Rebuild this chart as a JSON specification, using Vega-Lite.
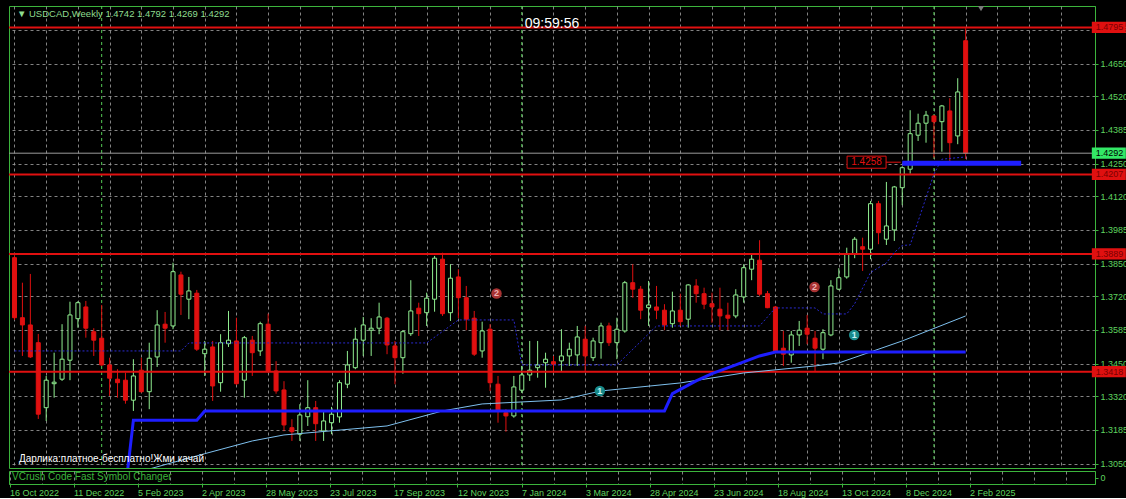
{
  "$schema": "https://vega.github.io/schema/vega-lite/v6.json",
  "background": "#000000",
  "padding": {"left": 7, "top": 5, "right": 0, "bottom": 0},
  "spacing": 3,
  "bounds": "flush",
  "datasets": {
    "candles": [
      {"date":"2022-10-16","open":1.3874,"high":1.3882,"low":1.3625,"close":1.3634},
      {"date":"2022-10-23","open":1.3634,"high":1.3774,"low":1.3481,"close":1.3605},
      {"date":"2022-10-30","open":1.3605,"high":1.3809,"low":1.3473,"close":1.3477},
      {"date":"2022-11-06","open":1.3534,"high":1.3569,"low":1.3229,"close":1.3248},
      {"date":"2022-11-13","open":1.3274,"high":1.3401,"low":1.3221,"close":1.3384},
      {"date":"2022-11-20","open":1.3370,"high":1.3494,"low":1.3314,"close":1.3376},
      {"date":"2022-11-27","open":1.3388,"high":1.3608,"low":1.3381,"close":1.3468},
      {"date":"2022-12-04","open":1.3464,"high":1.3698,"low":1.3384,"close":1.3645},
      {"date":"2022-12-11","open":1.3630,"high":1.3700,"low":1.3594,"close":1.3694},
      {"date":"2022-12-18","open":1.3677,"high":1.3701,"low":1.3554,"close":1.3592},
      {"date":"2022-12-25","open":1.3578,"high":1.3592,"low":1.3481,"close":1.3544},
      {"date":"2023-01-01","open":1.3552,"high":1.3685,"low":1.3441,"close":1.3445},
      {"date":"2023-01-08","open":1.3445,"high":1.3474,"low":1.3321,"close":1.3392},
      {"date":"2023-01-15","open":1.3388,"high":1.3428,"low":1.3314,"close":1.3374},
      {"date":"2023-01-22","open":1.3384,"high":1.3414,"low":1.3290,"close":1.3304},
      {"date":"2023-01-29","open":1.3304,"high":1.3468,"low":1.3261,"close":1.3401},
      {"date":"2023-02-05","open":1.3424,"high":1.3474,"low":1.3334,"close":1.3338},
      {"date":"2023-02-12","open":1.3338,"high":1.3534,"low":1.3268,"close":1.3472},
      {"date":"2023-02-19","open":1.3477,"high":1.3664,"low":1.3437,"close":1.3605},
      {"date":"2023-02-26","open":1.3608,"high":1.3657,"low":1.3534,"close":1.3592},
      {"date":"2023-03-05","open":1.3601,"high":1.3854,"low":1.3588,"close":1.3818},
      {"date":"2023-03-12","open":1.3805,"high":1.3818,"low":1.3645,"close":1.3728},
      {"date":"2023-03-19","open":1.3708,"high":1.3797,"low":1.3628,"close":1.3741},
      {"date":"2023-03-26","open":1.3732,"high":1.3745,"low":1.3501,"close":1.3508},
      {"date":"2023-04-02","open":1.3490,"high":1.3541,"low":1.3401,"close":1.3508},
      {"date":"2023-04-09","open":1.3517,"high":1.3541,"low":1.3301,"close":1.3361},
      {"date":"2023-04-16","open":1.3374,"high":1.3568,"low":1.3338,"close":1.3534},
      {"date":"2023-04-23","open":1.3530,"high":1.3661,"low":1.3517,"close":1.3544},
      {"date":"2023-04-30","open":1.3541,"high":1.3634,"low":1.3365,"close":1.3370},
      {"date":"2023-05-07","open":1.3384,"high":1.3561,"low":1.3314,"close":1.3554},
      {"date":"2023-05-14","open":1.3544,"high":1.3561,"low":1.3401,"close":1.3494},
      {"date":"2023-05-21","open":1.3501,"high":1.3618,"low":1.3481,"close":1.3610},
      {"date":"2023-05-28","open":1.3608,"high":1.3650,"low":1.3414,"close":1.3421},
      {"date":"2023-06-04","open":1.3421,"high":1.3460,"low":1.3330,"close":1.3341},
      {"date":"2023-06-11","open":1.3345,"high":1.3380,"low":1.3180,"close":1.3205},
      {"date":"2023-06-18","open":1.3194,"high":1.3228,"low":1.3141,"close":1.3178},
      {"date":"2023-06-25","open":1.3168,"high":1.3288,"low":1.3141,"close":1.3245},
      {"date":"2023-07-02","open":1.3238,"high":1.3384,"low":1.3201,"close":1.3274},
      {"date":"2023-07-09","open":1.3274,"high":1.3301,"low":1.3141,"close":1.3210},
      {"date":"2023-07-16","open":1.3181,"high":1.3261,"low":1.3141,"close":1.3221},
      {"date":"2023-07-23","open":1.3214,"high":1.3277,"low":1.3168,"close":1.3248},
      {"date":"2023-07-30","open":1.3237,"high":1.3384,"low":1.3214,"close":1.3374},
      {"date":"2023-08-06","open":1.3368,"high":1.3501,"low":1.3352,"close":1.3445},
      {"date":"2023-08-13","open":1.3434,"high":1.3594,"low":1.3428,"close":1.3548},
      {"date":"2023-08-20","open":1.3544,"high":1.3637,"low":1.3481,"close":1.3605},
      {"date":"2023-08-27","open":1.3584,"high":1.3632,"low":1.3481,"close":1.3592},
      {"date":"2023-09-03","open":1.3592,"high":1.3694,"low":1.3568,"close":1.3637},
      {"date":"2023-09-10","open":1.3632,"high":1.3637,"low":1.3488,"close":1.3525},
      {"date":"2023-09-17","open":1.3521,"high":1.3541,"low":1.3368,"close":1.3474},
      {"date":"2023-09-24","open":1.3474,"high":1.3584,"low":1.3410,"close":1.3578},
      {"date":"2023-10-01","open":1.3570,"high":1.3784,"low":1.3561,"close":1.3661},
      {"date":"2023-10-08","open":1.3672,"high":1.3694,"low":1.3561,"close":1.3650},
      {"date":"2023-10-15","open":1.3654,"high":1.3734,"low":1.3601,"close":1.3712},
      {"date":"2023-10-22","open":1.3708,"high":1.3881,"low":1.3658,"close":1.3872},
      {"date":"2023-10-29","open":1.3868,"high":1.3894,"low":1.3641,"close":1.3650},
      {"date":"2023-11-05","open":1.3654,"high":1.3848,"low":1.3621,"close":1.3792},
      {"date":"2023-11-12","open":1.3797,"high":1.3828,"low":1.3632,"close":1.3714},
      {"date":"2023-11-19","open":1.3714,"high":1.3761,"low":1.3584,"close":1.3628},
      {"date":"2023-11-26","open":1.3632,"high":1.3661,"low":1.3481,"close":1.3488},
      {"date":"2023-12-03","open":1.3501,"high":1.3618,"low":1.3474,"close":1.3581},
      {"date":"2023-12-10","open":1.3588,"high":1.3608,"low":1.3341,"close":1.3374},
      {"date":"2023-12-17","open":1.3368,"high":1.3401,"low":1.3214,"close":1.3264},
      {"date":"2023-12-24","open":1.3254,"high":1.3268,"low":1.3178,"close":1.3241},
      {"date":"2023-12-31","open":1.3241,"high":1.3401,"low":1.3234,"close":1.3357},
      {"date":"2024-01-07","open":1.3344,"high":1.3441,"low":1.3334,"close":1.3405},
      {"date":"2024-01-14","open":1.3405,"high":1.3541,"low":1.3381,"close":1.3424},
      {"date":"2024-01-21","open":1.3434,"high":1.3541,"low":1.3394,"close":1.3445},
      {"date":"2024-01-28","open":1.3454,"high":1.3494,"low":1.3354,"close":1.3468},
      {"date":"2024-02-04","open":1.3458,"high":1.3481,"low":1.3414,"close":1.3448},
      {"date":"2024-02-11","open":1.3461,"high":1.3588,"low":1.3421,"close":1.3481},
      {"date":"2024-02-18","open":1.3481,"high":1.3534,"low":1.3441,"close":1.3508},
      {"date":"2024-02-25","open":1.3485,"high":1.3601,"low":1.3441,"close":1.3557},
      {"date":"2024-03-03","open":1.3548,"high":1.3601,"low":1.3421,"close":1.3481},
      {"date":"2024-03-10","open":1.3474,"high":1.3554,"low":1.3461,"close":1.3541},
      {"date":"2024-03-17","open":1.3534,"high":1.3614,"low":1.3470,"close":1.3601},
      {"date":"2024-03-24","open":1.3601,"high":1.3614,"low":1.3521,"close":1.3534},
      {"date":"2024-03-31","open":1.3534,"high":1.3634,"low":1.3468,"close":1.3588},
      {"date":"2024-04-07","open":1.3581,"high":1.3781,"low":1.3574,"close":1.3774},
      {"date":"2024-04-14","open":1.3774,"high":1.3848,"low":1.3714,"close":1.3748},
      {"date":"2024-04-21","open":1.3748,"high":1.3761,"low":1.3628,"close":1.3664},
      {"date":"2024-04-28","open":1.3674,"high":1.3781,"low":1.3601,"close":1.3685},
      {"date":"2024-05-05","open":1.3677,"high":1.3761,"low":1.3628,"close":1.3664},
      {"date":"2024-05-12","open":1.3664,"high":1.3688,"low":1.3584,"close":1.3605},
      {"date":"2024-05-19","open":1.3610,"high":1.3738,"low":1.3594,"close":1.3661},
      {"date":"2024-05-26","open":1.3664,"high":1.3730,"low":1.3601,"close":1.3618},
      {"date":"2024-06-02","open":1.3628,"high":1.3768,"low":1.3594,"close":1.3765},
      {"date":"2024-06-09","open":1.3761,"high":1.3788,"low":1.3694,"close":1.3730},
      {"date":"2024-06-16","open":1.3730,"high":1.3754,"low":1.3668,"close":1.3688},
      {"date":"2024-06-23","open":1.3690,"high":1.3734,"low":1.3614,"close":1.3677},
      {"date":"2024-06-30","open":1.3668,"high":1.3754,"low":1.3584,"close":1.3641},
      {"date":"2024-07-07","open":1.3644,"high":1.3694,"low":1.3584,"close":1.3632},
      {"date":"2024-07-14","open":1.3641,"high":1.3748,"low":1.3632,"close":1.3725},
      {"date":"2024-07-21","open":1.3717,"high":1.3848,"low":1.3694,"close":1.3834},
      {"date":"2024-07-28","open":1.3828,"high":1.3888,"low":1.3784,"close":1.3868},
      {"date":"2024-08-04","open":1.3864,"high":1.3944,"low":1.3721,"close":1.3728},
      {"date":"2024-08-11","open":1.3730,"high":1.3741,"low":1.3672,"close":1.3674},
      {"date":"2024-08-18","open":1.3677,"high":1.3681,"low":1.3494,"close":1.3501},
      {"date":"2024-08-25","open":1.3512,"high":1.3581,"low":1.3441,"close":1.3488},
      {"date":"2024-09-01","open":1.3485,"high":1.3581,"low":1.3454,"close":1.3565},
      {"date":"2024-09-08","open":1.3565,"high":1.3621,"low":1.3521,"close":1.3584},
      {"date":"2024-09-15","open":1.3592,"high":1.3645,"low":1.3528,"close":1.3568},
      {"date":"2024-09-22","open":1.3552,"high":1.3581,"low":1.3421,"close":1.3512},
      {"date":"2024-09-29","open":1.3508,"high":1.3588,"low":1.3468,"close":1.3574},
      {"date":"2024-10-06","open":1.3565,"high":1.3784,"low":1.3560,"close":1.3761},
      {"date":"2024-10-13","open":1.3748,"high":1.3832,"low":1.3744,"close":1.3794},
      {"date":"2024-10-20","open":1.3797,"high":1.3914,"low":1.3790,"close":1.3888},
      {"date":"2024-10-27","open":1.3890,"high":1.3957,"low":1.3872,"close":1.3948},
      {"date":"2024-11-03","open":1.3918,"high":1.3954,"low":1.3821,"close":1.3908},
      {"date":"2024-11-10","open":1.3908,"high":1.4101,"low":1.3868,"close":1.4090},
      {"date":"2024-11-17","open":1.4090,"high":1.4101,"low":1.3928,"close":1.3974},
      {"date":"2024-11-24","open":1.3948,"high":1.4177,"low":1.3925,"close":1.4001},
      {"date":"2024-12-01","open":1.3985,"high":1.4161,"low":1.3941,"close":1.4157},
      {"date":"2024-12-08","open":1.4154,"high":1.4240,"low":1.4084,"close":1.4234},
      {"date":"2024-12-15","open":1.4228,"high":1.4464,"low":1.4210,"close":1.4370},
      {"date":"2024-12-22","open":1.4364,"high":1.4450,"low":1.4341,"close":1.4412},
      {"date":"2024-12-29","open":1.4412,"high":1.4461,"low":1.4334,"close":1.4444},
      {"date":"2025-01-05","open":1.4441,"high":1.4445,"low":1.4274,"close":1.4418},
      {"date":"2025-01-12","open":1.4418,"high":1.4485,"low":1.4298,"close":1.4481},
      {"date":"2025-01-19","open":1.4461,"high":1.4512,"low":1.4254,"close":1.4334},
      {"date":"2025-01-26","open":1.4361,"high":1.4592,"low":1.4328,"close":1.4537},
      {"date":"2025-02-02","open":1.4742,"high":1.4792,"low":1.4269,"close":1.4292}
    ],
    "levels": [
      {"price":1.4795},{"price":1.4207},{"price":1.3889},{"price":1.3418}
    ],
    "tags": [
      {"price":1.4795,"label":"1.4795","kind":"level"},
      {"price":1.4207,"label":"1.4207","kind":"level"},
      {"price":1.3889,"label":"1.3889","kind":"level"},
      {"price":1.3418,"label":"1.3418","kind":"level"},
      {"price":1.4292,"label":"1.4292","kind":"bid"}
    ],
    "seps": [
      {"date":"2023-01-01"},{"date":"2024-01-07"},{"date":"2025-01-05"}
    ],
    "ma": [
      {"date":"2023-02-05","value":1.3020},
      {"date":"2023-04-02","value":1.3090},
      {"date":"2023-05-14","value":1.3141},
      {"date":"2023-06-11","value":1.3165},
      {"date":"2023-09-10","value":1.3201},
      {"date":"2023-10-29","value":1.3261},
      {"date":"2023-12-03","value":1.3289},
      {"date":"2024-02-11","value":1.3305},
      {"date":"2024-03-17","value":1.3341},
      {"date":"2024-05-26","value":1.3373},
      {"date":"2024-07-21","value":1.3413},
      {"date":"2024-09-22","value":1.3441},
      {"date":"2024-10-13","value":1.3453},
      {"date":"2024-12-08","value":1.3541},
      {"date":"2025-02-02","value":1.3641}
    ],
    "dots": [
      {"date":"2022-10-16","value":1.3501},
      {"date":"2023-03-12","value":1.3501},
      {"date":"2023-03-19","value":1.3533},
      {"date":"2023-10-15","value":1.3533},
      {"date":"2023-11-12","value":1.3625},
      {"date":"2023-12-31","value":1.3625},
      {"date":"2024-01-07","value":1.3445},
      {"date":"2024-03-31","value":1.3445},
      {"date":"2024-05-05","value":1.3601},
      {"date":"2024-08-04","value":1.3601},
      {"date":"2024-08-18","value":1.3673},
      {"date":"2024-09-22","value":1.3673},
      {"date":"2024-09-29","value":1.3649},
      {"date":"2024-10-20","value":1.3649},
      {"date":"2024-10-27","value":1.3690},
      {"date":"2024-11-10","value":1.3815},
      {"date":"2024-11-24","value":1.3853},
      {"date":"2024-12-01","value":1.3895},
      {"date":"2024-12-08","value":1.3923},
      {"date":"2024-12-15","value":1.3925},
      {"date":"2025-01-05","value":1.4209},
      {"date":"2025-01-12","value":1.4268},
      {"date":"2025-02-02","value":1.4277}
    ],
    "support": [
      {"date":"2023-01-22","value":1.2950},
      {"date":"2023-01-29","value":1.3224},
      {"date":"2023-03-26","value":1.3224},
      {"date":"2023-04-02","value":1.3261},
      {"date":"2024-05-12","value":1.3261},
      {"date":"2024-05-19","value":1.3330},
      {"date":"2024-06-09","value":1.3381},
      {"date":"2024-06-23","value":1.3410},
      {"date":"2024-07-14","value":1.3445},
      {"date":"2024-08-04","value":1.3481},
      {"date":"2024-08-18","value":1.3497},
      {"date":"2025-02-02","value":1.3497}
    ],
    "zone": [
      {"date":"2024-12-08","value":1.4252},
      {"date":"2025-03-23","value":1.4252}
    ],
    "badges": [
      {"date":1702657800000,"price":1.3731,"n":"2"},
      {"date":1726925400000,"price":1.3757,"n":"2"},
      {"date":1710542880000,"price":1.3341,"n":"1"},
      {"date":1729949400000,"price":1.3565,"n":"1"}
    ]
  },
  "vconcat": [
    {
      "width": 1086,
      "height": 462,
      "layer": [
        {
          "data": {"name": "seps"},
          "mark": {"type": "rule", "color": "#55cc55", "strokeDash": [3, 3], "strokeWidth": 1},
          "encoding": {
            "x": {
              "field": "date", "type": "temporal",
              "scale": {"type": "utc", "domain": [{"year": 2022, "month": 10, "date": 15, "hours": 13, "minutes": 30, "utc": true}, {"year": 2025, "month": 5, "date": 22, "hours": 19, "minutes": 30, "utc": true}]},
              "axis": {
                "values": [1665878400000,1668297600000,1670716800000,1673136000000,1675555200000,1677974400000,1680393600000,1682812800000,1685232000000,1687651200000,1690070400000,1692489600000,1694908800000,1697328000000,1699747200000,1702166400000,1704585600000,1707004800000,1709424000000,1711843200000,1714262400000,1716681600000,1719100800000,1721520000000,1723939200000,1726358400000,1728777600000,1731196800000,1733616000000,1736035200000,1738454400000,1740873600000,1743292800000,1745712000000],
                "tickCount": 60,
                "grid": true, "labels": false, "ticks": false, "domain": false, "title": null
              }
            }
          }
        },
        {
          "data": {"name": "candles"},
          "mark": {"type": "rule", "strokeWidth": 1, "clip": true},
          "encoding": {
            "x": {"field": "date", "type": "temporal"},
            "y": {
              "field": "low", "type": "quantitative",
              "scale": {"domain": [1.30328, 1.48808], "zero": false, "nice": false},
              "axis": {
                "orient": "right", "title": null, "format": ".4f",
                "values": [1.3050, 1.3185, 1.3320, 1.3450, 1.3585, 1.3720, 1.3850, 1.3985, 1.4120, 1.4250, 1.4385, 1.4520, 1.4650, 1.4785],
                "tickCount": 40,
                "grid": true, "tickSize": 3, "labelPadding": 2, "labelFontSize": 9,
                "labelOverlap": false, "labelSeparation": 0, "labelFlush": false, "labelBound": false
              }
            },
            "y2": {"field": "high"},
            "color": {"condition": {"test": "datum.close >= datum.open", "value": "#90ee90"}, "value": "#e01010"}
          }
        },
        {
          "data": {"name": "candles"},
          "mark": {"type": "bar", "width": 4, "strokeWidth": 1, "clip": true},
          "encoding": {
            "x": {"field": "date", "type": "temporal"},
            "y": {"field": "open", "type": "quantitative"},
            "y2": {"field": "close"},
            "fill": {"condition": {"test": "datum.close >= datum.open", "value": "#000000"}, "value": "#e01010"},
            "stroke": {"condition": {"test": "datum.close >= datum.open", "value": "#90ee90"}, "value": "#e01010"}
          }
        },
        {
          "data": {"name": "levels"},
          "mark": {"type": "rule", "color": "#e01010", "strokeWidth": 2},
          "encoding": {"y": {"field": "price", "type": "quantitative"}}
        },
        {
          "data": {"values": [{"price": 1.4292}]},
          "mark": {"type": "rule", "color": "#9a9a9a", "strokeWidth": 1},
          "encoding": {"y": {"field": "price", "type": "quantitative"}}
        },
        {
          "data": {"name": "ma"},
          "mark": {"type": "line", "color": "#7ec0ee", "strokeWidth": 1, "clip": true},
          "encoding": {
            "x": {"field": "date", "type": "temporal"},
            "y": {"field": "value", "type": "quantitative"}
          }
        },
        {
          "data": {"name": "dots"},
          "mark": {"type": "line", "color": "#2a2ad0", "strokeWidth": 1, "strokeDash": [2, 2], "clip": true},
          "encoding": {
            "x": {"field": "date", "type": "temporal"},
            "y": {"field": "value", "type": "quantitative"}
          }
        },
        {
          "data": {"name": "support"},
          "mark": {"type": "line", "color": "#1e1eff", "strokeWidth": 3, "clip": true},
          "encoding": {
            "x": {"field": "date", "type": "temporal"},
            "y": {"field": "value", "type": "quantitative"}
          }
        },
        {
          "data": {"name": "zone"},
          "mark": {"type": "line", "color": "#1e1eff", "strokeWidth": 5, "clip": true},
          "encoding": {
            "x": {"field": "date", "type": "temporal"},
            "y": {"field": "value", "type": "quantitative"}
          }
        },
        {
          "data": {"values": [{"date": 1732293000000, "date2": 1733502600000, "price": 1.4256}]},
          "mark": {"type": "rule", "color": "#e01010", "strokeWidth": 1},
          "encoding": {
            "x": {"field": "date", "type": "temporal"},
            "x2": {"field": "date2"},
            "y": {"field": "price", "type": "quantitative"}
          }
        },
        {
          "data": {"values": [{"date": 1730894400000, "price": 1.4256, "label": "1.4258"}]},
          "mark": {"type": "point", "shape": "M-1,-0.31L1,-0.31L1,0.31L-1,0.31Z", "size": 1521, "filled": false, "fill": "#000000", "stroke": "#e01010", "strokeWidth": 1, "opacity": 1},
          "encoding": {
            "x": {"field": "date", "type": "temporal"},
            "y": {"field": "price", "type": "quantitative"}
          }
        },
        {
          "data": {"values": [{"date": 1730894400000, "price": 1.4256, "label": "1.4258"}]},
          "mark": {"type": "text", "color": "#e01010", "fontSize": 10, "align": "center", "baseline": "middle"},
          "encoding": {
            "x": {"field": "date", "type": "temporal"},
            "y": {"field": "price", "type": "quantitative"},
            "text": {"field": "label"}
          }
        },
        {
          "data": {"name": "badges"},
          "mark": {"type": "point", "shape": "circle", "size": 110, "filled": true, "opacity": 1},
          "encoding": {
            "x": {"field": "date", "type": "temporal"},
            "y": {"field": "price", "type": "quantitative"},
            "color": {"condition": {"test": "datum.n == '2'", "value": "#a83232"}, "value": "#188a8a"}
          }
        },
        {
          "data": {"name": "badges"},
          "mark": {"type": "text", "fontSize": 9, "fontWeight": "bold", "align": "center", "baseline": "middle"},
          "encoding": {
            "x": {"field": "date", "type": "temporal"},
            "y": {"field": "price", "type": "quantitative"},
            "text": {"field": "n"},
            "color": {"condition": {"test": "datum.n == '2'", "value": "#f0b0b0"}, "value": "#c8f4f4"}
          }
        },
        {
          "data": {"values": [{"date": 1666067400000, "price": 1.4849, "label": "▼ USDCAD,Weekly  1.4742 1.4792 1.4269 1.4292"}]},
          "mark": {"type": "text", "color": "#8fdc8f", "fontSize": 9.5, "align": "left", "baseline": "middle"},
          "encoding": {
            "x": {"field": "date", "type": "temporal"},
            "y": {"field": "price", "type": "quantitative"},
            "text": {"field": "label"}
          }
        },
        {
          "data": {"values": [{"date": 1706891400000, "price": 1.4809, "label": "09:59:56"}]},
          "mark": {"type": "text", "color": "#ffffff", "fontSize": 14, "align": "center", "baseline": "middle"},
          "encoding": {
            "x": {"field": "date", "type": "temporal"},
            "y": {"field": "price", "type": "quantitative"},
            "text": {"field": "label"}
          }
        },
        {
          "data": {"values": [{"date": 1666218600000, "price": 1.3069, "label": "Дарлика:платное-бесплатно!Жми качай"}]},
          "mark": {"type": "text", "color": "#ffffff", "fontSize": 10, "align": "left", "baseline": "middle"},
          "encoding": {
            "x": {"field": "date", "type": "temporal"},
            "y": {"field": "price", "type": "quantitative"},
            "text": {"field": "label"}
          }
        },
        {
          "data": {"values": [{"date": 1739626200000, "price": 1.4871}]},
          "mark": {"type": "point", "shape": "triangle-down", "size": 45, "filled": true, "color": "#7a7a7a", "opacity": 1, "clip": true},
          "encoding": {
            "x": {"field": "date", "type": "temporal"},
            "y": {"field": "price", "type": "quantitative"}
          }
        },
        {
          "data": {"name": "tags"},
          "mark": {"type": "point", "shape": "M-1,-0.33L1,-0.33L1,0.33L-1,0.33Z", "size": 1156, "filled": true, "opacity": 1, "strokeWidth": 0},
          "encoding": {
            "x": {"datum": {"year": 2025, "month": 6, "date": 8, "hours": 10, "minutes": 30, "utc": true}, "type": "temporal"},
            "y": {"field": "price", "type": "quantitative"},
            "color": {"condition": {"test": "datum.kind == 'bid'", "value": "#33e866"}, "value": "#e01010"}
          }
        },
        {
          "data": {"name": "tags"},
          "mark": {"type": "text", "fontSize": 9, "align": "left", "baseline": "middle"},
          "encoding": {
            "x": {"datum": {"year": 2025, "month": 5, "date": 27, "hours": 21, "minutes": 0, "utc": true}, "type": "temporal"},
            "y": {"field": "price", "type": "quantitative"},
            "text": {"field": "label"},
            "color": {"condition": {"test": "datum.kind == 'bid'", "value": "#000000"}, "value": "#7a0000"}
          }
        }
      ]
    },
    {
      "width": 1086,
      "height": 13,
      "data": {"values": [{"date": 1666067400000, "value": 0.1, "label": "VCrush Code Fast Symbol Changer"}]},
      "mark": {"type": "text", "align": "left", "baseline": "middle", "color": "#3cb43c", "fontSize": 10},
      "encoding": {
        "x": {
          "field": "date", "type": "temporal",
          "scale": {"type": "utc", "domain": [{"year": 2022, "month": 10, "date": 15, "hours": 13, "minutes": 30, "utc": true}, {"year": 2025, "month": 5, "date": 22, "hours": 19, "minutes": 30, "utc": true}]},
          "axis": {
            "values": [1665878400000,1668297600000,1670716800000,1673136000000,1675555200000,1677974400000,1680393600000,1682812800000,1685232000000,1687651200000,1690070400000,1692489600000,1694908800000,1697328000000,1699747200000,1702166400000,1704585600000,1707004800000,1709424000000,1711843200000,1714262400000,1716681600000,1719100800000,1721520000000,1723939200000,1726358400000,1728777600000,1731196800000,1733616000000,1736035200000,1738454400000,1740873600000,1743292800000,1745712000000],
            "tickCount": 60,
            "grid": true, "title": null,
            "labelExpr": "round((datum.value - 1665878400000) / 2419200000) % 2 == 0 && datum.value < 1740000000000 ? utcFormat(datum.value, '%-d %b %Y') : ''",
            "tickOpacity": {"condition": {"test": "round((datum.value - 1665878400000) / 2419200000) % 2 == 0 && datum.value < 1740000000000", "value": 1}, "value": 0},
            "labelAlign": "left", "labelBaseline": "top", "labelPadding": 1, "labelFontSize": 9,
            "tickSize": 3, "labelOverlap": false, "labelFlush": false, "labelBound": false
          }
        },
        "y": {
          "field": "value", "type": "quantitative",
          "scale": {"domain": [-1, 1], "zero": false, "nice": false},
          "axis": {"orient": "right", "values": [0], "title": null, "grid": false, "tickSize": 3, "labelPadding": 2, "labelFontSize": 9, "labelBaseline": "middle"}
        },
        "text": {"field": "label"}
      }
    }
  ],
  "config": {
    "background": "#000000",
    "font": "Liberation Sans",
    "view": {"stroke": "#3cb43c", "strokeWidth": 1},
    "axis": {
      "labelFont": "Liberation Sans",
      "labelColor": "#5fd35f",
      "labelFontSize": 9,
      "labelOverlap": false,
      "domainColor": "#3cb43c",
      "tickColor": "#3cb43c",
      "gridColor": "#9a9a9a",
      "gridDash": [3, 3],
      "gridOpacity": 0.85
    },
    "text": {"font": "Liberation Sans"}
  }
}
